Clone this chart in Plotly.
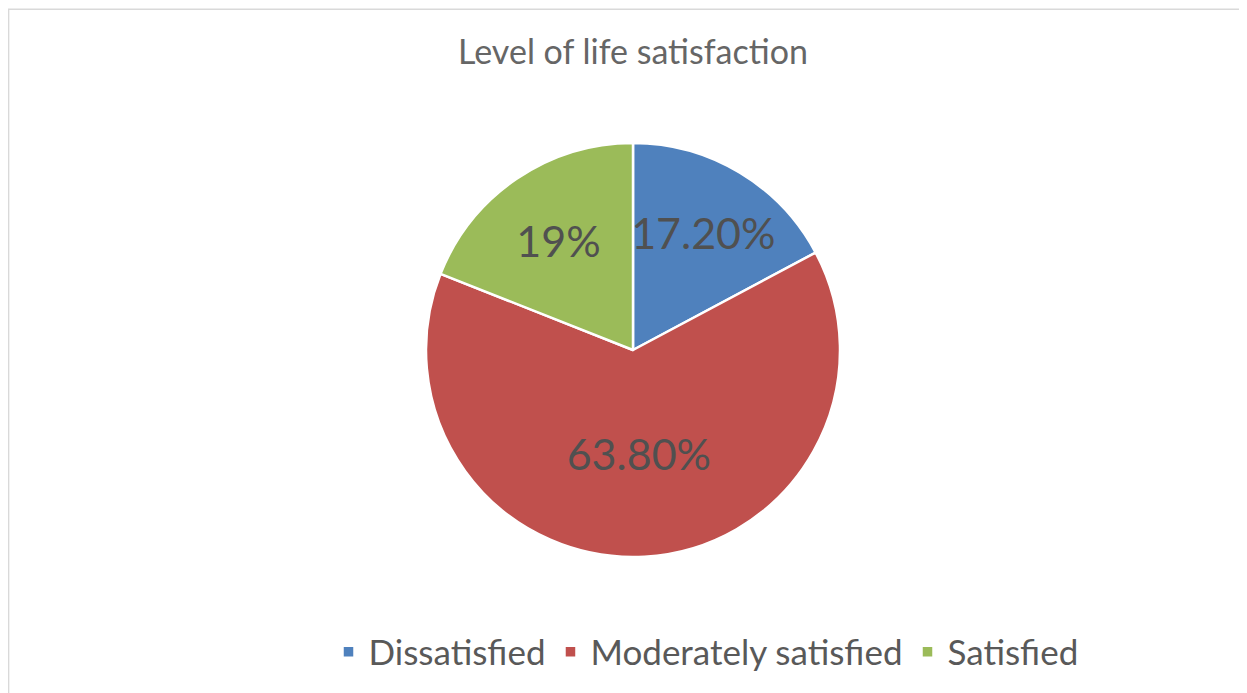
import plotly.graph_objects as go

categories = ["Dissatisfied", "Moderately satisfied", "Satisfied"]
values = [17.2, 63.8, 19.0]
labels_text = ["17.20%", "63.80%", "19%"]
colors = ["#4F81BD", "#C0504D", "#9BBB59"]

OFF = 8  # page body margin
W, H = 1247 - OFF, 693 - OFF


def px(x):
    return (x - OFF) / W


def py(y):
    return 1 - (y - OFF) / H


FONT = "Lato"
fig = go.Figure(go.Pie(
    labels=categories,
    values=values,
    text=labels_text,
    texttemplate="%{text}",
    textposition="inside",
    insidetextorientation="horizontal",
    sort=False,
    direction="clockwise",
    rotation=0,
    marker=dict(colors=colors, line=dict(color="white", width=2.5)),
    textfont=dict(family=FONT, size=43, color="#505050"),
    domain=dict(x=[px(426), px(840)], y=[py(557), py(143)]),
    hoverinfo="label+percent",
))

fig.update_layout(
    width=W, height=H,
    margin=dict(l=0, r=0, t=0, b=0),
    paper_bgcolor="white",
    uniformtext=dict(minsize=43, mode="show"),
    title=dict(text="Level of life satisfaction", x=px(633), xanchor="center",
               y=py(52), yanchor="middle",
               font=dict(family=FONT, size=34, color="#666666")),
    legend=dict(orientation="h", x=px(706), xanchor="center", y=py(652), yanchor="middle",
                font=dict(family=FONT, size=35, color="#595959")),
    shapes=[dict(type="rect", xref="paper", yref="paper",
                 x0=0.6 / W, x1=1.02, y0=-0.02, y1=1 - 1.2 / H,
                 line=dict(color="#D9D9D9", width=1.5), layer="below")],
)

fig.write_html("out.html")
